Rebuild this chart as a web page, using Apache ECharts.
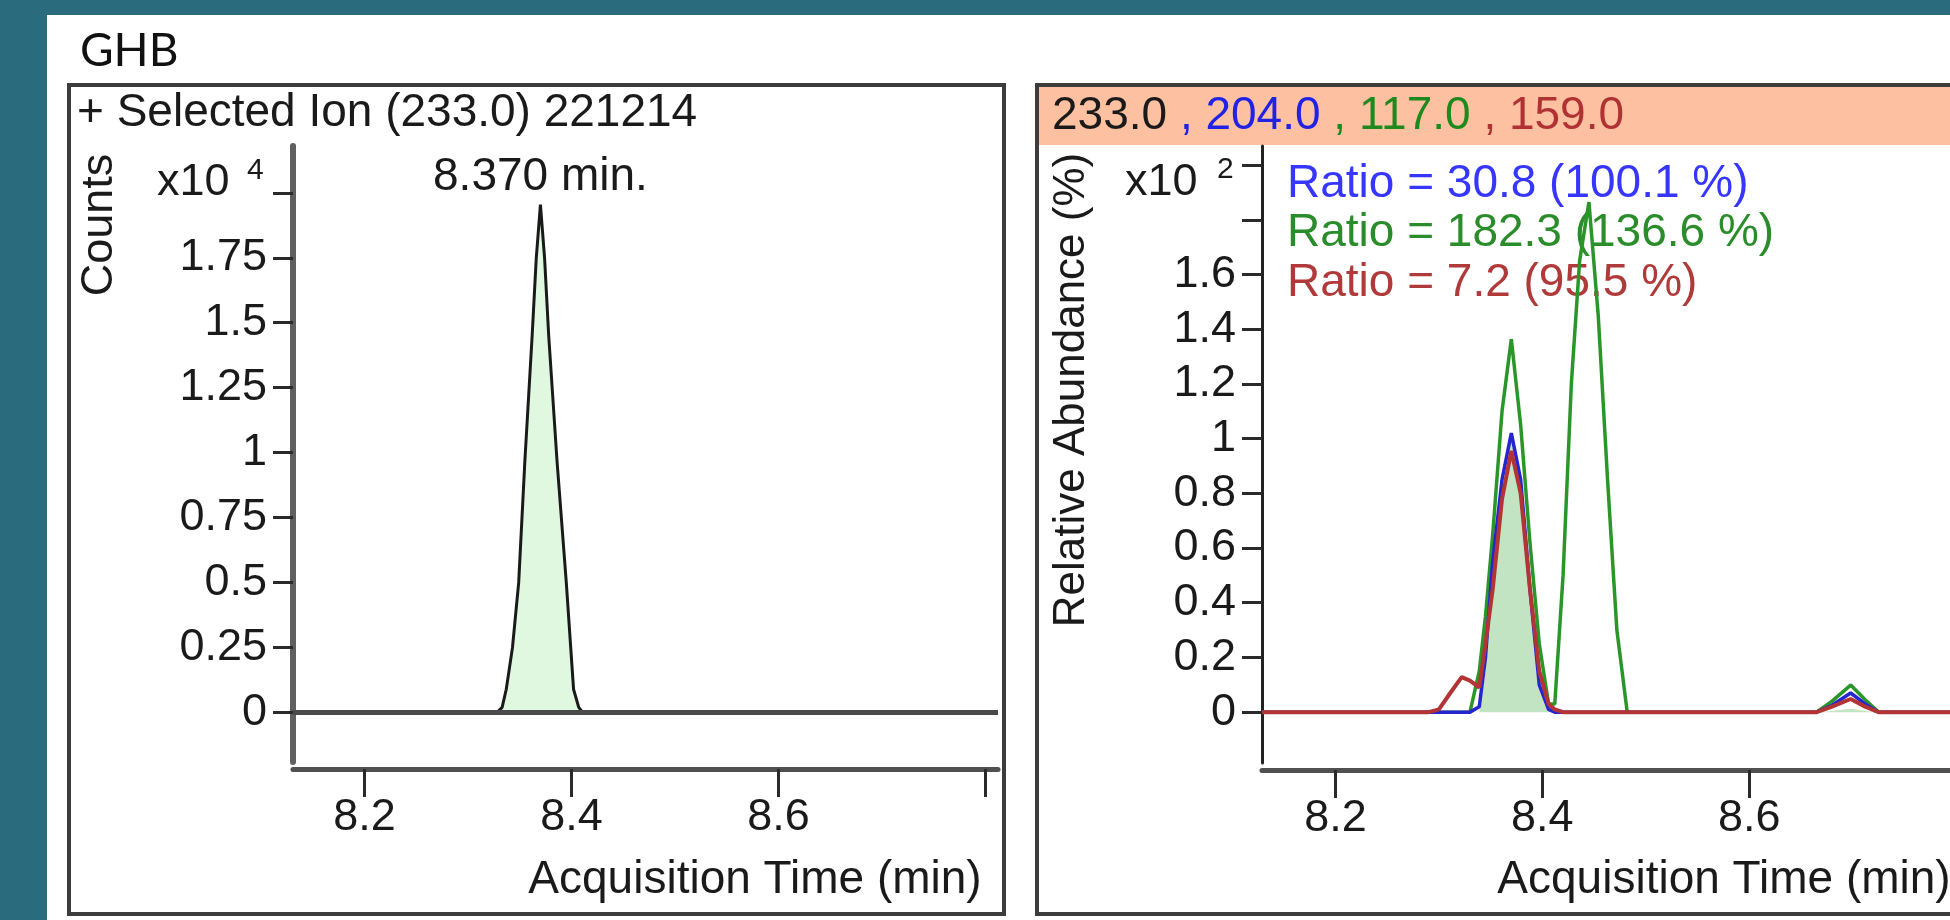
<!DOCTYPE html>
<html>
<head>
<meta charset="utf-8">
<script src="https://cdn.jsdelivr.net/npm/echarts@6/dist/echarts.min.js"></script>
<style>
  html, body { margin: 0; padding: 0; background: #2b6b7e; }
  #chart { width: 1950px; height: 920px; }
</style>
</head>
<body>
<div id="chart"></div>
<script>
// left panel: selected ion 233.0, counts (x10^4)
const leftTime = [8.131, 8.328, 8.333, 8.337, 8.343, 8.349, 8.355, 8.362, 8.366, 8.370, 8.374, 8.378, 8.386, 8.395, 8.402, 8.407, 8.411, 8.812]
const leftCounts = [0, 0, 0.02, 0.09, 0.25, 0.50, 0.97, 1.45, 1.75, 1.954, 1.75, 1.45, 0.97, 0.50, 0.09, 0.02, 0, 0]
const leftYTicks = [0, 0.25, 0.5, 0.75, 1, 1.25, 1.5, 1.75, 2]
const leftYLabels = [0, 0.25, 0.5, 0.75, 1, 1.25, 1.5, 1.75]

// shared time axis ticks
const timeTicks = [8.2, 8.4, 8.6, 8.8]
const timeLabels = [8.2, 8.4, 8.6]

// right panel: qualifier overlay, relative abundance (x10^2)
const rightTime = [8.129, 8.290, 8.300, 8.311, 8.322, 8.330, 8.339, 8.345, 8.352, 8.361, 8.370, 8.379, 8.388, 8.397, 8.406, 8.412, 8.420, 8.428, 8.436, 8.445, 8.454, 8.463, 8.472, 8.482, 8.665, 8.680, 8.698, 8.712, 8.725, 8.794]
const ion233 = [0, 0, 0, 0, 0, 0, 0, 0.15, 0.50, 0.80, 1.00, 0.80, 0.45, 0.12, 0.01, 0, 0, 0, 0, 0, 0, 0, 0, 0, 0, 0.004, 0.012, 0.004, 0, 0]
const ion117 = [0, 0, 0, 0, 0, 0, 0.15, 0.35, 0.65, 1.10, 1.364, 1.05, 0.62, 0.25, 0.03, 0.03, 0.50, 1.20, 1.65, 1.865, 1.45, 0.85, 0.30, 0, 0, 0.04, 0.099, 0.045, 0, 0]
const ion204 = [0, 0, 0, 0, 0, 0, 0.02, 0.20, 0.55, 0.85, 1.02, 0.85, 0.45, 0.10, 0.01, 0, 0, 0, 0, 0, 0, 0, 0, 0, 0, 0.025, 0.07, 0.03, 0, 0]
const ion159 = [0, 0, 0.01, 0.07, 0.128, 0.115, 0.09, 0.25, 0.45, 0.78, 0.955, 0.80, 0.45, 0.15, 0.03, 0.01, 0, 0, 0, 0, 0, 0, 0, 0, 0, 0.02, 0.048, 0.02, 0, 0]
const rightYTicks = [0, 0.2, 0.4, 0.6, 0.8, 1, 1.2, 1.4, 1.6, 1.8, 2]
const rightYLabels = [0, 0.2, 0.4, 0.6, 0.8, 1, 1.2, 1.4, 1.6]

const headerIons = ['233.0', '204.0', '117.0', '159.0']
const ionColors = ['#1a1a1a', '#2222e6', '#1e8a1e', '#b03232']
const ratioLines = ['Ratio = 30.8 (100.1 %)', 'Ratio = 182.3 (136.6 %)', 'Ratio = 7.2 (95.5 %)']
const ratioColors = ['#3636ff', '#2a8c2a', '#b03a3a']

const font = 'Liberation Sans, Arial, sans-serif'
const ink = '#1a1a1a'
const zip = (xs, ys) => xs.map((x, i) => [x, ys[i]])
const apexIdx = leftCounts.indexOf(Math.max(...leftCounts))

const chart = echarts.init(document.getElementById('chart'))

function timeAxis (grid, min, max) {
  return {
    type: 'value',
    gridIndex: grid,
    min,
    max,
    offset: 7,
    axisLine: { onZero: false, lineStyle: { color: '#505050', width: 5 } },
    axisTick: { customValues: timeTicks, length: 28, lineStyle: { color: '#2a2a2a', width: 3 } },
    axisLabel: { customValues: timeLabels, margin: 26, fontSize: 45, fontFamily: font, color: ink },
    splitLine: { show: false }
  }
}

function abundAxis (grid, min, max, ticks, labels, lineColor, lineWidth) {
  return {
    type: 'value',
    gridIndex: grid,
    min,
    max,
    axisLine: { show: true, onZero: false, lineStyle: { color: lineColor, width: lineWidth } },
    axisTick: { show: true, customValues: ticks, length: 20, lineStyle: { color: '#2a2a2a', width: 3 } },
    axisLabel: { customValues: labels, margin: 26, fontSize: 45, fontFamily: font, color: ink },
    splitLine: { show: false }
  }
}

function txt (x, y, text, size, color) {
  return {
    type: 'text',
    x,
    y,
    z: 1,
    style: { text, fontSize: size, fontFamily: font, fill: color, align: 'left', verticalAlign: 'middle' }
  }
}

function centered (x, y, text, size, rotation) {
  return {
    type: 'text',
    x,
    y,
    z: 1,
    rotation: rotation || 0,
    style: { text, fontSize: size, fontFamily: font, fill: ink, align: 'center', verticalAlign: 'middle' }
  }
}

const headerRich = {}
ionColors.forEach((c, i) => { headerRich['c' + i] = { fill: c, fontSize: 46, fontFamily: font } })
const headerText = headerIons.map((m, i) => i ? `{c${i}| , ${m}}` : `{c0|${m}}`).join('')

const option = {
  animation: false,
  backgroundColor: '#2b6b7e',
  grid: [
    { left: 293, top: 146, width: 705, height: 616 },
    { left: 1262, top: 146, width: 688, height: 617 }
  ],
  xAxis: [timeAxis(0, 8.131, 8.812), timeAxis(1, 8.129, 8.794)],
  yAxis: [
    abundAxis(0, -0.19, 2.18, leftYTicks, leftYLabels, '#606060', 6),
    abundAxis(1, -0.186, 2.07, rightYTicks, rightYLabels, '#222222', 3)
  ],
  graphic: [
    { type: 'rect', z: -10, shape: { x: 47, y: 15, width: 1903, height: 905 }, style: { fill: '#ffffff' } },
    { type: 'rect', z: -5, shape: { x: 1039, y: 87, width: 911, height: 58 }, style: { fill: '#fdc0a0' } },
    { type: 'rect', z: 30, shape: { x: 69, y: 85, width: 935, height: 829 }, style: { fill: 'none', stroke: '#3c3c3c', lineWidth: 4 } },
    { type: 'rect', z: 30, shape: { x: 1037, y: 85, width: 960, height: 829 }, style: { fill: 'none', stroke: '#3c3c3c', lineWidth: 4 } },
    { type: 'text', x: 80, y: 51, z: 1, style: { text: 'GHB', fontSize: 46, fontFamily: 'Lato, Open Sans, sans-serif', fill: '#111', align: 'left', verticalAlign: 'middle' } },
    txt(77, 113, '+ Selected Ion (233.0) 221214', 46, ink),
    { type: 'text', x: 1052, y: 116, z: 1, style: { text: headerText, rich: headerRich, fontSize: 46, fontFamily: font, align: 'left', verticalAlign: 'middle' } },
    centered(100, 225, 'Counts', 45, Math.PI / 2),
    centered(1072, 390, 'Relative Abundance (%)', 44, Math.PI / 2),
    txt(157, 183, 'x10', 45, ink),
    txt(247, 171, '4', 30, ink),
    txt(1125, 183, 'x10', 45, ink),
    txt(1217, 170, '2', 30, ink),
    centered(755, 880, 'Acquisition Time (min)', 46),
    centered(1724, 880, 'Acquisition Time (min)', 46),
    ...ratioLines.map((t, i) => txt(1287, 184 + i * 49.5, t, 46, ratioColors[i]))
  ],
  series: [
    {
      name: '233.0',
      type: 'line',
      xAxisIndex: 0,
      yAxisIndex: 0,
      data: zip(leftTime, leftCounts),
      symbol: 'none',
      lineStyle: { color: '#1a1a1a', width: 3 },
      areaStyle: { color: '#e0f8e0', opacity: 1, origin: 'auto' },
      markLine: {
        silent: true,
        symbol: ['none', 'none'],
        label: { show: false },
        lineStyle: { color: '#4a4a4a', width: 5, type: 'solid' },
        data: [{ yAxis: 0 }]
      },
      markPoint: {
        symbol: 'circle',
        symbolSize: 0,
        data: [{ coord: [leftTime[apexIdx], leftCounts[apexIdx]] }],
        label: {
          show: true,
          position: 'top',
          distance: 4,
          formatter: () => leftTime[apexIdx].toFixed(3) + ' min.',
          fontSize: 46,
          fontFamily: font,
          color: ink
        }
      }
    },
    {
      name: '233.0 q',
      type: 'line',
      xAxisIndex: 1,
      yAxisIndex: 1,
      data: zip(rightTime, ion233),
      symbol: 'none',
      lineStyle: { width: 0 },
      areaStyle: { color: '#c3e4c3', opacity: 1, origin: 'auto' }
    },
    {
      name: '117.0',
      type: 'line',
      xAxisIndex: 1,
      yAxisIndex: 1,
      data: zip(rightTime, ion117),
      symbol: 'none',
      lineStyle: { color: '#2a962a', width: 3.5 }
    },
    {
      name: '204.0',
      type: 'line',
      xAxisIndex: 1,
      yAxisIndex: 1,
      data: zip(rightTime, ion204),
      symbol: 'none',
      lineStyle: { color: '#2626d0', width: 3.5 }
    },
    {
      name: '159.0',
      type: 'line',
      xAxisIndex: 1,
      yAxisIndex: 1,
      data: zip(rightTime, ion159),
      symbol: 'none',
      lineStyle: { color: '#b23434', width: 4 }
    }
  ]
}

chart.setOption(option)
</script>
</body>
</html>
